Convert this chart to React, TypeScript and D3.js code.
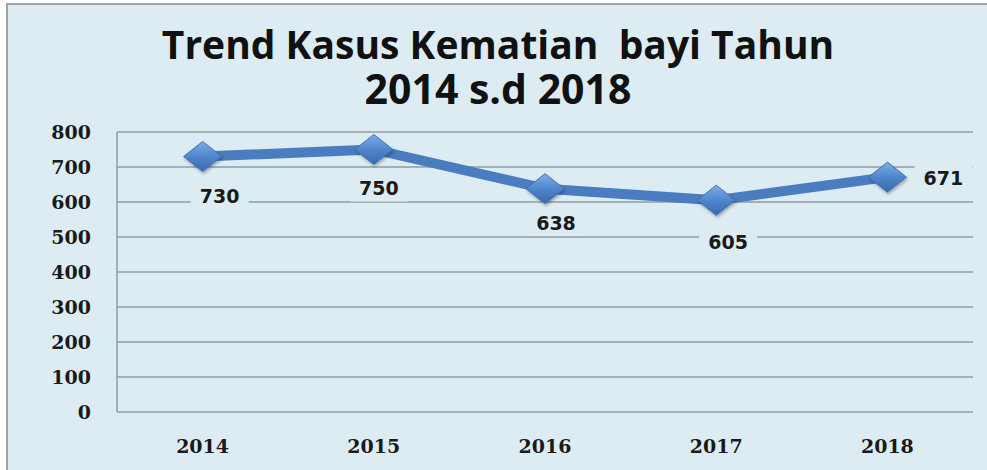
import React from "react";
import * as d3 from "d3";

const years = ["2014", "2015", "2016", "2017", "2018"];
const cases = [730, 750, 638, 605, 671];
const yTicks = [0, 100, 200, 300, 400, 500, 600, 700, 800];
const labelOffsets: [number, number][] = [
  [17, 40],
  [5, 39],
  [11, 34],
  [12, 42],
  [56, 1],
];
const titleLines = ["Trend Kasus Kematian  bayi Tahun", "2014 s.d 2018"];
const titleSizes = [39, 41];

const W = 987;
const H = 470;
const BG = "#dcecf2";
const GRID = "#8f9ea5";
const LINE = "#4a7cc0";

export default function App() {
  const x = d3.scaleBand<string>().domain(years).range([117, 973]);
  const y = d3.scaleLinear().domain([0, 800]).range([412, 132]);
  const pts = years.map((yr, i) => [x(yr)! + x.bandwidth() / 2, y(cases[i])] as [number, number]);
  const line = d3.line()(pts) || "";
  const diamond = (cx: number, cy: number) =>
    `M${cx},${cy - 15}L${cx + 19},${cy}L${cx},${cy + 15}L${cx - 19},${cy}Z`;

  return (
    <svg
      width={W}
      height={H}
      style={{ position: "absolute", left: 0, top: 0, display: "block" }}
    >
      <defs>
        <linearGradient id="dg" x1="0" y1="0" x2="0" y2="1">
          <stop offset="0" stopColor="#7eaee8" />
          <stop offset="0.5" stopColor="#4f86cc" />
          <stop offset="1" stopColor="#3a69ad" />
        </linearGradient>
        <filter id="sh" x="-50%" y="-50%" width="200%" height="200%">
          <feDropShadow dx="1" dy="2" stdDeviation="1.5" floodColor="#000" floodOpacity="0.3" />
        </filter>
      </defs>
      <rect x={0} y={0} width={W} height={H} fill="#ffffff" />
      <rect x={7} y={4} width={W + 20} height={H + 20} fill={BG} stroke="#a3a3a3" strokeWidth={2} />

      <text
        textAnchor="middle"
        fontFamily="'Open Sans', sans-serif"
        fontWeight="bold"
        fill="#111"
        style={{ whiteSpace: "pre" }}
      >
        {titleLines.map((t, i) => (
          <tspan key={i} x={498} y={59 + i * 45} fontSize={titleSizes[i]}>
            {t}
          </tspan>
        ))}
      </text>

      {yTicks.map((t) => (
        <g key={t}>
          <line x1={117} x2={973} y1={y(t)} y2={y(t)} stroke={GRID} strokeWidth={1.5} />
          <text
            x={91}
            y={y(t)}
            dy="0.36em"
            textAnchor="end"
            fontFamily="'DejaVu Serif', serif"
            fontWeight="bold"
            fontSize={19}
            fill="#1a1a1a"
          >
            {t}
          </text>
        </g>
      ))}
      <line x1={117} x2={117} y1={132} y2={412} stroke={GRID} strokeWidth={1.5} />

      {years.map((yr) => (
        <text
          key={yr}
          x={x(yr)! + x.bandwidth() / 2}
          y={453}
          textAnchor="middle"
          fontFamily="'DejaVu Serif', serif"
          fontWeight="bold"
          fontSize={19}
          fill="#1a1a1a"
        >
          {yr}
        </text>
      ))}

      {pts.map(([px, py], i) => {
        const [dx, dy] = labelOffsets[i];
        return (
          <rect key={"b" + i} x={px + dx - 29} y={py + dy - 13} width={58} height={26} fill={BG} />
        );
      })}

      <path d={line} fill="none" stroke={LINE} strokeWidth={10} strokeLinejoin="round" />
      {pts.map(([px, py], i) => (
        <path key={"m" + i} d={diamond(px, py)} fill="url(#dg)" stroke="#3f70b3" strokeWidth={1} filter="url(#sh)" />
      ))}

      {pts.map(([px, py], i) => {
        const [dx, dy] = labelOffsets[i];
        return (
          <text
            key={"l" + i}
            x={px + dx}
            y={py + dy}
            dy="0.36em"
            textAnchor="middle"
            fontFamily="'DejaVu Sans', sans-serif"
            fontWeight="bold"
            fontSize={19}
            fill="#1a1a1a"
          >
            {cases[i]}
          </text>
        );
      })}
    </svg>
  );
}
